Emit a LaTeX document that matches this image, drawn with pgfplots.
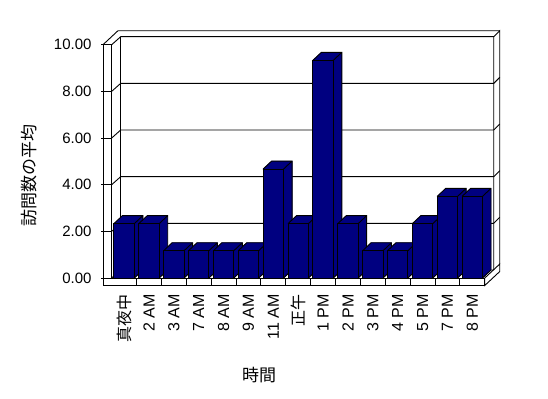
\documentclass[border=0pt]{standalone}
\usepackage{pgfplots}
\usepackage{pgfplotstable}
\pgfplotsset{compat=1.18}
\usepackage{fontspec}
\setmainfont{Liberation Sans}
\newfontfamily\jp{Noto Sans CJK JP}
\definecolor{barblue}{RGB}{0,0,128}
\pgfplotstableread{
x v
0 2.33
1 2.33
2 1.17
3 1.17
4 1.17
5 1.17
6 4.67
7 2.33
8 9.33
9 2.33
10 1.17
11 1.17
12 2.33
13 3.5
14 3.5
}\visits
\tikzset{frame/.style={draw=black, line width=0.9bp}}
\begin{document}
\begin{tikzpicture}
\begin{axis}[
  x=24.87bp, y=23.33bp,
  xmin=-0.5, xmax=14.5, ymin=0, ymax=10,
  enlargelimits=false, clip=false,
  axis line style={draw=none},
  major tick length=0pt,
  tick style={draw=none},
  xtick={0,...,14},
  xticklabels={{\jp 真夜中},2 AM,3 AM,7 AM,8 AM,9 AM,11 AM,{\jp 正午},1 PM,2 PM,3 PM,4 PM,5 PM,7 PM,8 PM},
  xticklabel style={rotate=90, anchor=east, inner sep=0pt, font=\fontsize{16bp}{18bp}\selectfont},
  xticklabel shift=16bp,
  ytick={0,2,...,10},
  yticklabel style={anchor=east, inner sep=0pt, font=\fontsize{15bp}{18bp}\selectfont},
  yticklabel shift=20bp,
  /pgf/number format/fixed,
  /pgf/number format/fixed zerofill,
  /pgf/number format/precision=2,
  /pgf/number format/assume math mode=true,
  xlabel={\jp 時間},
  ylabel={\jp 訪問数の平均},
  xlabel style={at={(axis description cs:0.395,-0.4158)}, anchor=center, inner sep=0pt, font=\fontsize{17bp}{20bp}\selectfont},
  ylabel style={at={(axis description cs:-0.2217,0.4415)}, anchor=center, inner sep=0pt, font=\fontsize{17bp}{20bp}\selectfont},
]
% picture extent
\path (-4.991,-5.144) rectangle (17.043,11.916);
% left wall front face and floor front face
\draw[frame] (-0.85,0) rectangle (-0.5,10);
\draw[frame] (-0.85,-0.321) rectangle (14.5,0);
\pgfplotsinvokeforeach{0,...,13}{\draw[frame] (#1.5,-0.321) -- (#1.5,0);}
% floor right face
\draw[frame] (14.5,0) -- (14.5,-0.321) -- (15.103,0.279) -- (15.103,0.6) -- cycle;
% back wall right face
\draw[frame] (14.862,0.343) -- (14.862,10.343) -- (15.103,10.6) -- (15.103,0.6);
% tops
\draw[frame] (-0.5,10) -- (-0.138,10.343) -- (14.862,10.343);
\draw[frame] (-0.85,10) -- (-0.247,10.6) -- (15.103,10.6);
% left wall inner back corner and floor inner edges
\draw[frame] (-0.138,0.343) -- (-0.138,10.343);
\draw[frame] (-0.5,0) -- (-0.138,0.343) -- (14.862,0.343);
% gridlines
\pgfplotsinvokeforeach{2,4,6,8}{\draw[frame] (-0.5,#1) -- (-0.138,#1.343) -- (14.862,#1.343) -- (15.103,#1.6);}
% tick marks
\pgfplotsinvokeforeach{0,2,4,6,8,10}{\draw[frame] (-0.92,#1) -- (-0.5,#1);}
% 3D bars: side, top and front drawn at each data point, left to right
\addplot[scatter, only marks, mark=*, mark size=0pt, mark options={draw=none,fill=none},
  visualization depends on={rawy \as \hv},
  scatter/@pre marker code/.code={%
    \pgfmathsetmacro\hh{-\hv*23.33}%
    \pgfmathsetmacro\yb{8-\hv*23.33}%
    \fill[barblue] (-10.2bp,0bp) -- (-1.7bp,8bp) -- (18.7bp,8bp) -- (18.7bp,\yb bp) -- (10.2bp,\hh bp) -- (10.2bp,0bp) -- cycle;
    \draw[black, line width=0.9bp, line join=miter]
      (-10.2bp,0bp) -- (-1.7bp,8bp) -- (18.7bp,8bp) -- (18.7bp,\yb bp) -- (10.2bp,\hh bp)
      (10.2bp,0bp) -- (18.7bp,8bp);
    \filldraw[fill=barblue, draw=black, line width=0.9bp, line join=miter]
      (-10.2bp,\hh bp) rectangle (10.2bp,0bp);
  },
  scatter/@post marker code/.code={},
] table[x=x,y=v] {\visits};
\end{axis}
\end{tikzpicture}
\end{document}
